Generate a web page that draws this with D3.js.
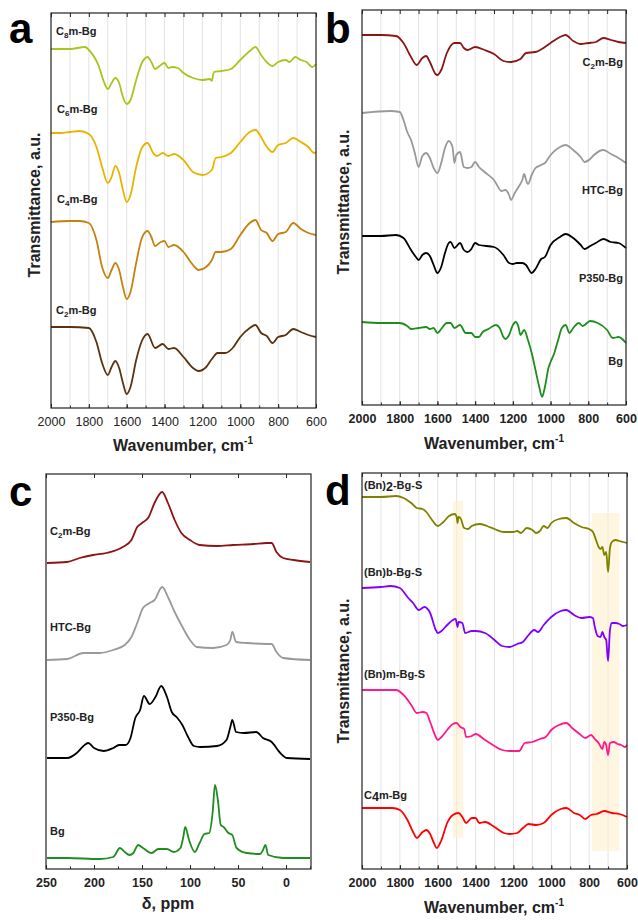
<!DOCTYPE html>
<html lang="en">
<head>
<meta charset="UTF-8">
<title>FTIR and 13C NMR spectra</title>
<script src="https://d3js.org/d3.v7.min.js"></script>
<style>
  body { margin: 0; background: #fff; }
  svg { font-family: "Liberation Sans", Arial, sans-serif; }
</style>
</head>
<body>
<div id="chart"></div>
<script>
// ---- data: [wavenumber or ppm, intensity (a.u., stacked)] ----
// panel a
const aC8 = [[2000,359],[1900,359],[1820,361],[1800,358],[1750,343],[1720,326],[1700,319],[1680,325],[1660,330],[1640,325],[1620,311],[1600,304],[1580,308],[1550,328],[1520,345],[1490,351],[1470,346],[1450,339],[1420,343],[1400,345],[1380,340],[1360,341],[1330,340],[1300,335],[1250,330],[1200,328],[1160,329],[1150,327],[1140,336],[1100,337],[1050,339],[1000,348],[950,357],[920,361],[890,353],[870,348],[830,342],[800,346],[760,348],[740,346],[710,351],[680,348],[650,346],[620,341],[600,344]];
const aC6 = [[2000,275],[1950,275],[1900,276],[1850,277],[1800,274],[1760,261],[1730,241],[1700,225],[1680,231],[1660,242],[1640,235],[1620,218],[1600,206],[1580,213],[1550,241],[1520,260],[1490,265],[1460,255],[1440,252],[1410,255],[1380,252],[1350,254],[1300,248],[1250,236],[1200,233],[1150,238],[1130,250],[1100,251],[1050,255],[1000,266],[950,276],[920,278],[890,271],[870,264],[830,256],[800,263],[760,265],[720,270],[680,266],[640,261],[610,255],[600,256]];
const aC4 = [[2000,186],[1900,187],[1850,187],[1800,185],[1760,168],[1730,141],[1700,130],[1680,138],[1660,145],[1640,138],[1620,121],[1600,109],[1580,116],[1550,145],[1520,170],[1490,177],[1470,171],[1450,162],[1420,166],[1400,167],[1380,161],[1350,163],[1300,156],[1250,143],[1220,138],[1180,141],[1150,148],[1130,156],[1100,156],[1050,159],[1000,173],[950,185],[920,188],[890,178],[860,175],[830,167],[800,174],[760,176],[720,185],[680,179],[640,175],[600,173]];
const aC2 = [[2000,81],[1900,81],[1800,80],[1760,66],[1730,45],[1700,33],[1680,41],[1660,47],[1640,40],[1620,25],[1600,14],[1580,21],[1550,48],[1520,67],[1490,74],[1450,60],[1410,64],[1380,59],[1350,60],[1300,51],[1250,40],[1220,37],[1180,41],[1150,49],[1120,55],[1080,55],[1040,60],[1000,71],[950,80],[920,83],[890,75],[860,72],[830,65],[800,71],[760,73],[720,79],[680,76],[640,73],[600,71]];
// panel b
const bC2 = [[2000,370],[1900,370],[1820,369],[1780,362],[1740,348],[1710,340],[1680,347],[1660,349],[1640,343],[1610,331],[1600,330],[1580,335],[1550,352],[1510,362],[1480,362],[1460,357],[1440,355],[1400,358],[1350,355],[1300,351],[1250,344],[1210,343],[1160,346],[1130,352],[1080,353],[1030,358],[1000,362],[950,368],[920,370],[880,364],[840,361],[800,362],[760,363],[720,367],[680,365],[640,363],[600,362]];
const bHTC = [[2000,292],[1850,294],[1800,293],[1780,285],[1760,273],[1740,265],[1720,252],[1700,238],[1680,249],[1660,252],[1640,247],[1620,237],[1600,232],[1580,242],[1560,257],[1540,264],[1520,258],[1510,242],[1500,250],[1480,253],[1460,238],[1440,237],[1420,238],[1400,243],[1380,238],[1350,233],[1300,225],[1260,214],[1240,215],[1220,210],[1210,205],[1190,212],[1170,218],[1150,225],[1140,231],[1130,225],[1120,221],[1100,230],[1080,237],[1050,240],[1030,242],[1000,250],[950,258],[920,260],[880,255],[840,248],[820,243],[790,246],[770,250],[720,255],[680,251],[640,247],[600,242]];
const bP350 = [[2000,169],[1900,169],[1820,170],[1780,167],[1740,155],[1710,147],[1700,145],[1680,150],[1660,152],[1640,149],[1620,140],[1600,132],[1580,138],[1560,152],[1540,162],[1530,163],[1510,157],[1480,162],[1460,155],[1440,153],[1420,156],[1400,162],[1380,160],[1300,158],[1250,150],[1220,142],[1200,141],[1180,142],[1150,142],[1130,140],[1100,132],[1080,136],[1050,146],[1030,148],[1000,160],[950,168],[920,171],[880,167],[840,160],[820,156],[790,159],[760,162],[720,166],[680,163],[640,162],[600,157]];
const bBg = [[2000,83],[1900,82],[1800,82],[1760,79],[1740,76],[1700,77],[1660,78],[1640,76],[1620,77],[1600,72],[1580,76],[1550,82],[1530,82],[1510,77],[1480,80],[1450,72],[1420,72],[1400,68],[1380,68],[1360,73],[1330,76],[1290,80],[1270,77],[1250,68],[1240,66],[1220,70],[1200,80],[1185,83],[1170,78],[1160,70],[1140,75],[1120,65],[1100,52],[1080,35],[1060,18],[1045,8],[1030,18],[1010,38],[1000,43],[980,52],[960,65],[940,77],[920,80],[900,72],[880,77],[850,82],[830,79],[790,84],[750,82],[700,75],[670,67],[640,68],[600,62]];
// panel c (13C NMR, ppm)
const cC2 = [[249,306],[228,307],[215,311],[201,314],[187,316],[170,322],[161,329],[155,342],[150,346],[143,352],[137,366],[129,377],[123,366],[116,349],[109,336],[100,329],[90,324],[72,323],[55,324],[34,325],[20,326],[15,326],[10,317],[3,311],[-8,309],[-25,307]];
const cHTC = [[249,209],[228,210],[211,216],[194,216],[180,219],[168,224],[161,232],[155,246],[149,261],[142,266],[137,269],[129,282],[123,272],[116,257],[109,244],[100,229],[93,222],[76,221],[62,224],[58,229],[56,237],[52,227],[41,226],[20,225],[15,225],[10,217],[3,211],[-25,209]];
const cP350 = [[249,111],[228,111],[218,116],[211,123],[206,126],[200,121],[190,118],[180,121],[174,124],[167,124],[162,131],[157,151],[152,159],[148,173],[142,165],[136,172],[130,183],[124,172],[119,157],[114,152],[108,144],[102,132],[96,123],[89,122],[72,123],[62,129],[58,142],[56,149],[52,137],[44,136],[31,137],[24,131],[15,127],[6,116],[-1,111],[-25,110]];
const cBg = [[249,11],[228,11],[194,10],[180,12],[173,21],[168,17],[163,14],[159,16],[154,24],[149,21],[140,16],[133,20],[124,20],[117,17],[110,21],[107,32],[105,42],[101,29],[95,17],[90,26],[85,35],[80,36],[76.5,56],[74,84],[71,69],[68,44],[65,42],[60,36],[56,34],[51.5,21],[41,16],[27,15],[24,19],[21.5,24],[18.5,14],[3,11],[-25,11]];
// panel d
const dBn2 = [[2000,372],[1900,372],[1820,373],[1780,371],[1740,366],[1710,361],[1680,360],[1660,357],[1630,349],[1600,343],[1570,347],[1540,353],[1510,355],[1500,352],[1495,346],[1490,352],[1480,351],[1460,341],[1440,340],[1420,343],[1380,345],[1340,343],[1300,340],[1250,337],[1200,337],[1180,338],[1160,336],[1130,341],[1100,339],[1080,336],[1060,338],[1040,343],[1020,341],[1000,346],[960,350],[920,351],[880,346],[840,342],[800,340],[780,337],[760,327],[750,322],[740,320],[730,322],[720,314],[710,317],[700,297],[690,321],[680,327],[660,329],[640,328],[620,327],[600,326]];
const dBnb = [[2000,281],[1900,282],[1850,283],[1800,281],[1760,272],[1730,266],[1700,259],[1670,262],[1640,256],[1610,239],[1600,236],[1580,238],[1550,244],[1520,249],[1505,250],[1495,242],[1490,247],[1470,246],[1455,236],[1420,238],[1400,238],[1350,236],[1300,229],[1260,223],[1220,222],[1180,225],[1150,227],[1120,234],[1090,239],[1070,237],[1040,244],[1000,252],[950,258],[920,259],[880,254],[840,251],[800,252],[780,251],[770,242],[755,233],[740,232],[730,237],[720,232],[710,229],[700,208],[690,239],[680,246],[660,246],[640,245],[620,243],[600,244]];
const dBnm = [[2000,179],[1900,179],[1820,179],[1780,174],[1740,164],[1710,156],[1680,157],[1660,156],[1640,147],[1610,132],[1600,129],[1580,132],[1550,139],[1520,145],[1500,146],[1480,142],[1460,140],[1450,132],[1420,133],[1400,135],[1350,129],[1300,123],[1260,119],[1220,118],[1170,118],[1140,126],[1100,127],[1060,130],[1030,132],[1000,139],[960,144],[920,146],[890,141],[850,135],[820,131],[790,134],[770,130],[750,126],[730,120],[720,127],[710,124],[700,114],[690,126],[670,127],[650,125],[630,124],[610,122],[600,124]];
const dC4 = [[2000,61],[1900,61],[1840,61],[1800,59],[1760,49],[1730,37],[1710,31],[1680,37],[1660,39],[1640,35],[1620,26],[1605,21],[1580,29],[1550,46],[1520,54],[1490,56],[1470,52],[1450,46],[1420,51],[1400,51],[1380,46],[1350,47],[1300,42],[1250,36],[1220,35],[1180,36],[1150,41],[1120,45],[1080,44],[1040,46],[1000,54],[950,60],[920,61],[880,56],[850,54],[820,50],[790,54],[760,55],[720,58],[680,56],[640,55],[600,52]];
// highlighted regions in d: [from, to] cm-1 and vertical extent in a.u.
const dBands = [[1520, 1465, 31, 368], [786, 640, 18, 356]];

const ftirLabelTicks = [2000, 1800, 1600, 1400, 1200, 1000, 800, 600];
const ftirMinorTicks = d3.range(2000, 599, -100);
const nmrLabelTicks = [250, 200, 150, 100, 50, 0];
const nmrMinorTicks = [225, 175, 125, 75, 25, -25];

const svg = d3.select("#chart").append("svg")
    .attr("width", 638)
    .attr("height", 920);

const line = (x, y) => d3.line()
    .x(d => x(d[0]))
    .y(d => y(d[1]))
    .curve(d3.curveMonotoneX);

// label with optional sub/lowered characters
function addLabel(g, px, py, parts, anchor) {
    const t = g.append("text")
        .attr("x", px).attr("y", py)
        .attr("text-anchor", anchor || "start")
        .attr("font-size", 11)
        .attr("font-weight", "bold")
        .attr("fill", "#222");
    let shift = 0;
    parts.forEach(([s, kind]) => {
        const ts = t.append("tspan").text(s);
        let target = 0;
        if (kind === "sub") { ts.attr("font-size", 8); target = 3; }
        if (kind === "low") { ts.attr("font-size", 12.5); target = 2; }
        if (target !== shift) ts.attr("dy", target - shift);
        shift = target;
    });
}

function drawPanel(p) {
    const x = d3.scaleLinear().domain(p.xDomain).range([p.left, p.right]);
    const y = d3.scaleLinear().domain([0, p.yMax]).range([p.bottom, p.top]);
    const g = svg.append("g");

    if (p.grid) {
        g.append("g").selectAll("line")
            .data(ftirMinorTicks.slice(1, -1))
            .enter().append("line")
            .attr("x1", d => x(d)).attr("x2", d => x(d))
            .attr("y1", p.top).attr("y2", p.bottom)
            .attr("stroke", "#e3e3e3")
            .attr("stroke-width", 1);
    }

    (p.bands || []).forEach(b => {
        g.append("rect")
            .attr("x", x(b[0]))
            .attr("width", x(b[1]) - x(b[0]))
            .attr("y", y(b[3]))
            .attr("height", y(b[2]) - y(b[3]))
            .attr("fill", "#fdf0cc")
            .attr("opacity", 0.6);
    });

    p.series.forEach(s => {
        g.append("path")
            .datum(s.data)
            .attr("fill", "none")
            .attr("stroke", s.color)
            .attr("stroke-width", 1.8)
            .attr("stroke-linejoin", "round")
            .attr("d", line(x, y));
        addLabel(g, s.lx, s.ly, s.label, p.labelAnchor);
    });

    // frame
    g.append("rect")
        .attr("x", p.left).attr("y", p.top)
        .attr("width", p.right - p.left).attr("height", p.bottom - p.top)
        .attr("fill", "none").attr("stroke", "#222").attr("stroke-width", 1.2);

    // ticks (inward) and labels
    const labelAxis = g.append("g")
        .attr("transform", `translate(0,${p.bottom})`)
        .call(d3.axisBottom(x).tickValues(p.labelTicks).tickSize(-4).tickPadding(9.5).tickFormat(d3.format("d")));
    labelAxis.select(".domain").remove();
    labelAxis.selectAll("text")
        .attr("font-size", 12.5)
        .attr("font-weight", p.boldTicks ? "bold" : "normal")
        .attr("fill", "#222")
        .style("font-family", "'Liberation Sans', Arial, sans-serif");
    labelAxis.selectAll("line").attr("stroke", "#222");

    const minor = g.append("g")
        .attr("transform", `translate(0,${p.bottom})`)
        .call(d3.axisBottom(x).tickValues(p.minorTicks).tickSize(-2.5).tickFormat(""));
    minor.select(".domain").remove();
    minor.selectAll("line").attr("stroke", "#222");

    const top = g.append("g")
        .attr("transform", `translate(0,${p.top})`)
        .call(d3.axisTop(x).tickValues(p.topTicks).tickSize(-4).tickFormat(""));
    top.select(".domain").remove();
    top.selectAll("line").attr("stroke", "#222");

    // axis titles
    const xt = g.append("text")
        .attr("x", p.xTitleX).attr("y", p.xTitleY)
        .attr("text-anchor", "middle")
        .attr("font-size", 16).attr("font-weight", "bold").attr("fill", "#222");
    xt.append("tspan").text(p.xTitle);
    if (p.xTitleSup) xt.append("tspan").text(p.xTitleSup).attr("font-size", 10).attr("dy", -7);

    if (p.yTitle) {
        g.append("text")
            .attr("transform", `translate(${p.yTitleX},${p.yTitleY}) rotate(-90)`)
            .attr("text-anchor", "middle")
            .attr("font-size", 16).attr("font-weight", "bold").attr("fill", "#222")
            .text(p.yTitle);
    }

    g.append("text")
        .attr("x", p.letterX).attr("y", p.letterY)
        .attr("font-size", 42).attr("font-weight", "bold").attr("fill", "#000")
        .text(p.letter);
}

drawPanel({
    letter: "a", letterX: 9, letterY: 43,
    left: 51, right: 316, top: 13, bottom: 408, yMax: 395,
    xDomain: [2000, 600], grid: true, boldTicks: false,
    labelTicks: ftirLabelTicks, minorTicks: ftirMinorTicks, topTicks: ftirMinorTicks,
    xTitle: "Wavenumber, cm", xTitleSup: "-1", xTitleX: 183, xTitleY: 451,
    yTitle: "Transmittance, a.u.", yTitleX: 40, yTitleY: 205,
    series: [
        {data: aC8, color: "#a6c61f", lx: 56, ly: 34.5, label: [["C"], ["8", "sub"], ["m-Bg"]]},
        {data: aC6, color: "#e8b400", lx: 57, ly: 113, label: [["C"], ["6", "sub"], ["m-Bg"]]},
        {data: aC4, color: "#c6800e", lx: 57, ly: 203, label: [["C"], ["4", "sub"], ["m-Bg"]]},
        {data: aC2, color: "#5a3210", lx: 56, ly: 314, label: [["C"], ["2", "sub"], ["m-Bg"]]}
    ]
});

drawPanel({
    letter: "b", letterX: 325, letterY: 43,
    left: 362, right: 626, top: 10, bottom: 405, yMax: 395,
    xDomain: [2000, 600], grid: true, boldTicks: true, labelAnchor: "end",
    labelTicks: ftirLabelTicks, minorTicks: ftirMinorTicks, topTicks: ftirMinorTicks,
    xTitle: "Wavenumber, cm", xTitleSup: "-1", xTitleX: 494, xTitleY: 449,
    yTitle: "Transmittance, a.u.", yTitleX: 349, yTitleY: 202,
    series: [
        {data: bC2, color: "#8b1414", lx: 623, ly: 66, label: [["C"], ["2", "sub"], ["m-Bg"]]},
        {data: bHTC, color: "#999999", lx: 623, ly: 194, label: [["HTC-Bg"]]},
        {data: bP350, color: "#000000", lx: 623, ly: 281.5, label: [["P350-Bg"]]},
        {data: bBg, color: "#1e8c1e", lx: 623, ly: 365, label: [["Bg"]]}
    ]
});

drawPanel({
    letter: "c", letterX: 9, letterY: 506,
    left: 46, right: 311, top: 474, bottom: 869, yMax: 395,
    xDomain: [250, -26], grid: false, boldTicks: true,
    labelTicks: nmrLabelTicks, minorTicks: nmrMinorTicks, topTicks: nmrLabelTicks,
    xTitle: "δ, ppm", xTitleX: 168, xTitleY: 909,
    series: [
        {data: cC2, color: "#8b1414", lx: 50, ly: 535, label: [["C"], ["2", "sub"], ["m-Bg"]]},
        {data: cHTC, color: "#999999", lx: 50, ly: 631, label: [["HTC-Bg"]]},
        {data: cP350, color: "#000000", lx: 50, ly: 720.5, label: [["P350-Bg"]]},
        {data: cBg, color: "#1e8c1e", lx: 50, ly: 835, label: [["Bg"]]}
    ]
});

drawPanel({
    letter: "d", letterX: 325, letterY: 505,
    left: 362, right: 627, top: 473, bottom: 869, yMax: 396,
    xDomain: [2000, 600], grid: true, boldTicks: true, bands: dBands,
    labelTicks: ftirLabelTicks, minorTicks: ftirMinorTicks, topTicks: ftirMinorTicks,
    xTitle: "Wavenumber, cm", xTitleSup: "-1", xTitleX: 494, xTitleY: 913,
    yTitle: "Transmittance, a.u.", yTitleX: 349, yTitleY: 671,
    series: [
        {data: dBn2, color: "#808000", lx: 364, ly: 489, label: [["(Bn)"], ["2", "low"], ["-Bg-S"]]},
        {data: dBnb, color: "#8000ff", lx: 364, ly: 576, label: [["(Bn)b-Bg-S"]]},
        {data: dBnm, color: "#ff1a8c", lx: 364, ly: 678, label: [["(Bn)m-Bg-S"]]},
        {data: dC4, color: "#ff0000", lx: 364, ly: 799, label: [["C"], ["4", "low"], ["m-Bg"]]}
    ]
});
</script>
</body>
</html>
